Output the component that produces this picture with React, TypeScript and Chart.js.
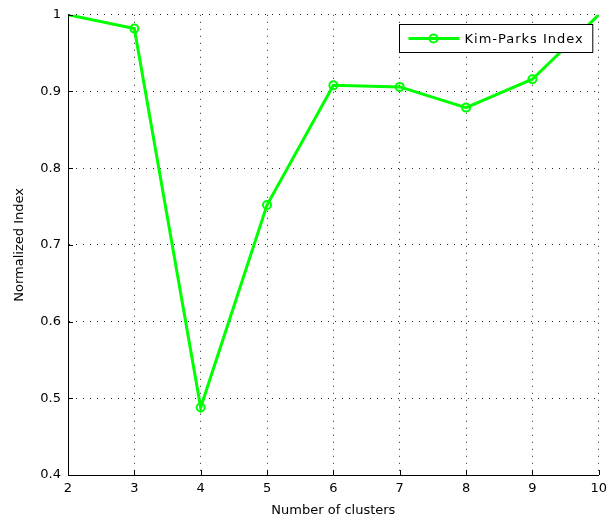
import React, { useEffect, useRef } from "react";
import { Chart, registerables } from "chart.js";

Chart.register(...registerables);

const categories = [2, 3, 4, 5, 6, 7, 8, 9, 10];
const kimParks = [1.0, 0.982, 0.488, 0.752, 0.908, 0.906, 0.879, 0.916, 1.0];
const seriesLabel = "Kim-Parks Index";
const yTickLabels = ["0.4", "0.5", "0.6", "0.7", "0.8", "0.9", "1"];
const xTitle = "Number of clusters";
const yTitle = "Normalized Index";

const GREEN = "#00ff00";
const FONT = "'DejaVu Sans', sans-serif";

const matlabPlugin = {
  id: "matlabExtras",
  afterDraw(chart: any) {
    const ctx = chart.ctx;
    const area = chart.chartArea;
    const xs = chart.scales.x;
    const ys = chart.scales.y;
    ctx.save();
    // inward tick marks
    ctx.strokeStyle = "#000";
    ctx.lineWidth = 1;
    ctx.beginPath();
    xs.ticks.forEach((t: any) => {
      const px = Math.round(xs.getPixelForValue(t.value)) + 0.5;
      ctx.moveTo(px, area.bottom);
      ctx.lineTo(px, area.bottom - 5);
    });
    ys.ticks.forEach((t: any) => {
      const py = Math.round(ys.getPixelForValue(t.value)) + 0.5;
      ctx.moveTo(area.left, py);
      ctx.lineTo(area.left + 5, py);
    });
    ctx.stroke();

    // legend box
    const ds = chart.data.datasets[0];
    ctx.font = "13px " + FONT;
    try {
      (ctx as any).letterSpacing = "1px";
    } catch (e) {}
    const tw = ctx.measureText(ds.label).width;
    const boxW = 65 + tw + 9;
    const boxH = 28;
    const bx = Math.round(area.right - 6 - boxW) + 0.5;
    const by = Math.round(area.top + 9) + 0.5;
    ctx.fillStyle = "#fff";
    ctx.fillRect(bx, by, boxW, boxH);
    ctx.strokeStyle = "#000";
    ctx.lineWidth = 1;
    ctx.strokeRect(bx, by, boxW, boxH);
    const ly = by + boxH / 2;
    ctx.strokeStyle = GREEN;
    ctx.lineWidth = 3;
    ctx.beginPath();
    ctx.moveTo(bx + 9, ly);
    ctx.lineTo(bx + 60, ly);
    ctx.stroke();
    ctx.lineWidth = 2;
    ctx.beginPath();
    ctx.arc(bx + 34, ly, 4, 0, Math.PI * 2);
    ctx.stroke();
    ctx.fillStyle = "#000";
    ctx.textBaseline = "middle";
    ctx.textAlign = "left";
    ctx.fillText(ds.label, bx + 65, ly + 1);
    ctx.restore();
  },
};

export default function App() {
  const ref = useRef<HTMLCanvasElement | null>(null);
  useEffect(() => {
    if (!ref.current) return;
    const last = categories.length - 1;
    const chart = new Chart(ref.current, {
      type: "line",
      data: {
        datasets: [
          {
            label: seriesLabel,
            data: categories.map((c, i) => ({ x: c, y: kimParks[i] })),
            borderColor: GREEN,
            borderWidth: 3,
            pointRadius: (ctx: any) => (ctx.dataIndex === 0 || ctx.dataIndex === last ? 0 : 4),
            pointBorderWidth: 2,
            pointBorderColor: GREEN,
            pointBackgroundColor: "rgba(0,0,0,0)",
            tension: 0,
          },
        ],
      },
      options: {
        animation: false,
        responsive: false,
        layout: { padding: { top: 13, right: 13, left: 0, bottom: 0 } },
        plugins: { legend: { display: false }, tooltip: { enabled: false } },
        scales: {
          x: {
            type: "linear",
            min: 2,
            max: 10,
            afterFit: (s: any) => {
              s.height = 47;
            },
            afterBuildTicks: (s: any) => {
              s.ticks = categories.map((v) => ({ value: v }));
            },
            ticks: {
              color: "#000",
              font: { family: FONT, size: 13 },
              padding: 6,
              maxRotation: 0,
              callback: (v: any) => String(v),
            },
            grid: {
              color: "rgba(0,0,0,0.85)",
              lineWidth: 1,
              drawTicks: false,
              tickLength: 0,
            },
            border: { display: true, color: "#000", width: 1, dash: [1, 6] },
            title: {
              display: true,
              text: xTitle,
              color: "#000",
              font: { family: FONT, size: 13 },
              padding: 4,
            },
          },
          y: {
            type: "linear",
            min: 0.4,
            max: 1,
            afterFit: (s: any) => {
              s.width = 68;
            },
            afterBuildTicks: (s: any) => {
              s.ticks = yTickLabels.map((l) => ({ value: parseFloat(l) }));
            },
            ticks: {
              color: "#000",
              font: { family: FONT, size: 13 },
              padding: 7,
              callback: (v: any) => {
                const f = yTickLabels.find((l) => Math.abs(parseFloat(l) - v) < 1e-9);
                return f ?? String(v);
              },
            },
            grid: {
              color: "rgba(0,0,0,0.85)",
              lineWidth: 1,
              drawTicks: false,
              tickLength: 0,
            },
            border: { display: true, color: "#000", width: 1, dash: [1, 6] },
            title: {
              display: true,
              text: yTitle,
              color: "#000",
              font: { family: FONT, size: 13 },
              padding: 12,
            },
          },
        },
      },
      plugins: [matlabPlugin],
    } as any);
    return () => chart.destroy();
  }, []);
  return (
    <canvas
      ref={ref}
      width={613}
      height={522}
      style={{ position: "absolute", left: 0, top: 0, width: 613, height: 522 }}
    />
  );
}
